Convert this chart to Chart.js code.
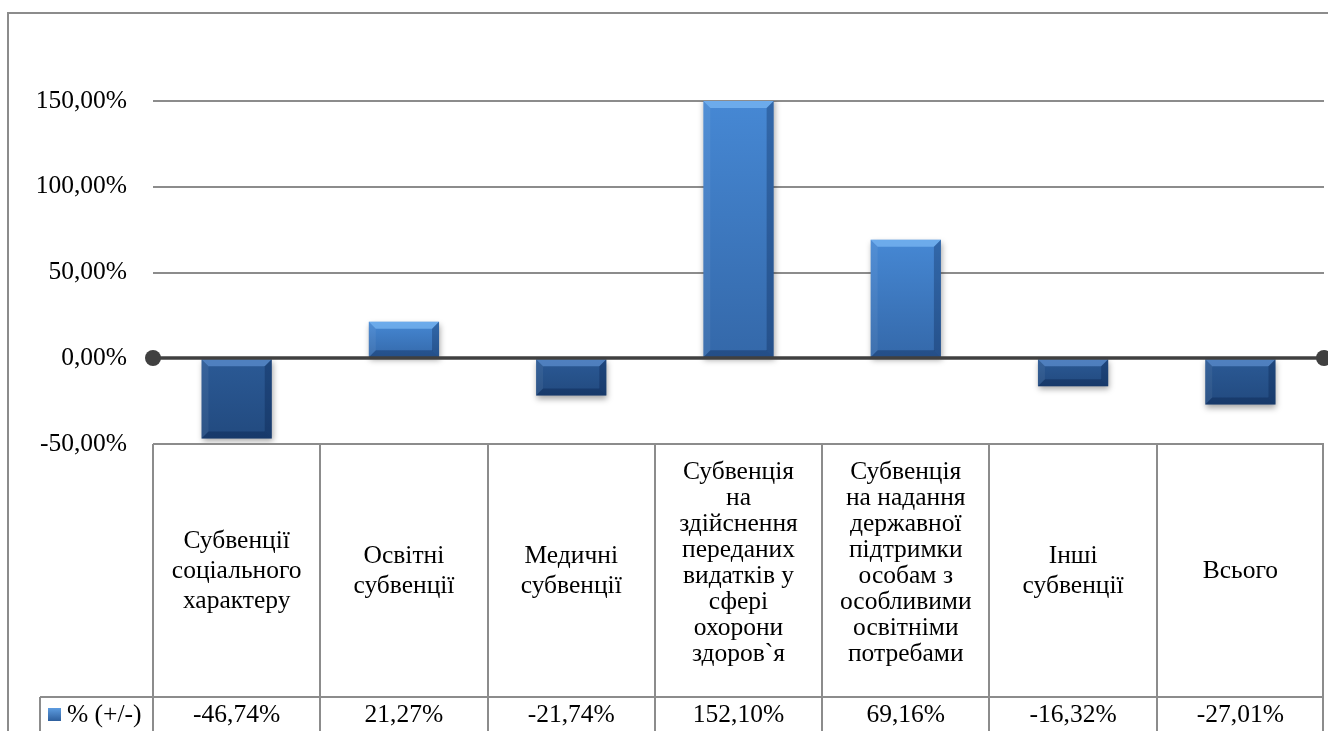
<!DOCTYPE html>
<html>
<head>
<meta charset="utf-8">
<script src="https://cdn.jsdelivr.net/npm/chart.js@4.4.1/dist/chart.umd.min.js"></script>
<style>
  html, body { margin: 0; padding: 0; background: #fff; }
  #wrap { width: 1328px; height: 731px; position: relative; overflow: hidden; }
</style>
</head>
<body>
<div id="wrap"><canvas id="c" width="1328" height="731"></canvas></div>
<script>
// ---- data ----
const categories = [
  ['Субвенції', 'соціального', 'характеру'],
  ['Освітні', 'субвенції'],
  ['Медичні', 'субвенції'],
  ['Субвенція', 'на', 'здійснення', 'переданих', 'видатків у', 'сфері', 'охорони', 'здоров`я'],
  ['Субвенція', 'на надання', 'державної', 'підтримки', 'особам з', 'особливими', 'освітніми', 'потребами'],
  ['Інші', 'субвенції'],
  ['Всього']
];
const values = [-46.74, 21.27, -21.74, 152.10, 69.16, -16.32, -27.01];
const seriesName = '% (+/-)';
const yMin = -50;
const yMax = 150;
const yStep = 50;

// ---- helpers ----
const FONT = '"Liberation Serif", "Times New Roman", serif';
const FS = 25.5;
const fmt = v => v.toFixed(2).replace('.', ',') + '%';
const GRID = '#8c8c8c';

function barFill(ctx) {
  const chart = ctx.chart;
  const area = chart.chartArea;
  const v = ctx.raw;
  if (!area || v === undefined) return v < 0 ? '#27538c' : '#3b7ac3';
  const ys = chart.scales.y;
  const y0 = ys.getPixelForValue(0);
  const y1 = Math.max(area.top, Math.min(area.bottom, ys.getPixelForValue(v)));
  const top = Math.min(y0, y1), bot = Math.max(y0, y1);
  const g = chart.ctx.createLinearGradient(0, top, 0, bot + 0.01);
  if (v >= 0) {
    g.addColorStop(0, '#4688d4');
    g.addColorStop(1, '#3468a9');
  } else {
    g.addColorStop(0, '#2b5a96');
    g.addColorStop(1, '#224a7f');
  }
  return g;
}

const shadowPlugin = {
  id: 'barShadow',
  beforeDatasetsDraw(chart) {
    const c = chart.ctx;
    c.save();
    c.shadowColor = 'rgba(0,0,0,0.35)';
    c.shadowBlur = 6;
    c.shadowOffsetX = 1;
    c.shadowOffsetY = 3;
  },
  afterDatasetsDraw(chart) {
    const c = chart.ctx;
    c.restore();
    const area = chart.chartArea;
    c.save();
    c.beginPath();
    c.rect(area.left, area.top, area.right - area.left, area.bottom - area.top);
    c.clip();
    chart.getDatasetMeta(0).data.forEach((el, i) => {
      const p = el.getProps(['x', 'y', 'base', 'width'], true);
      const l = p.x - p.width / 2, r = p.x + p.width / 2;
      const t = Math.max(area.top, Math.min(p.y, p.base));
      const b = Math.max(p.y, p.base);
      const h = b - t;
      const bw = Math.min(7, h / 2, p.width / 2);
      const poly = (pts, col) => {
        c.beginPath();
        c.moveTo(pts[0][0], pts[0][1]);
        for (let k = 1; k < pts.length; k++) c.lineTo(pts[k][0], pts[k][1]);
        c.closePath();
        c.fillStyle = col;
        c.fill();
      };
      const pos = values[i] >= 0;
      poly([[l, t], [r, t], [r - bw, t + bw], [l + bw, t + bw]], pos ? 'rgba(140,200,255,0.55)' : 'rgba(110,160,225,0.55)');
      poly([[l, t], [l + bw, t + bw], [l + bw, b - bw], [l, b]], 'rgba(255,255,255,0.06)');
      poly([[r, t], [r, b], [r - bw, b - bw], [r - bw, t + bw]], 'rgba(0,20,60,0.28)');
      poly([[l, b], [l + bw, b - bw], [r - bw, b - bw], [r, b]], 'rgba(0,20,60,0.30)');
    });
    c.restore();
    const ys = chart.scales.y;
    const y0 = Math.round(ys.getPixelForValue(0));
    c.save();
    c.strokeStyle = '#404040';
    c.fillStyle = '#404040';
    c.lineWidth = 3.5;
    c.beginPath();
    c.moveTo(area.left, y0);
    c.lineTo(area.right, y0);
    c.stroke();
    [area.left, area.right].forEach(x => {
      c.beginPath();
      c.arc(x, y0, 8, 0, Math.PI * 2);
      c.fill();
    });
    c.restore();
  }
};

const framePlugin = {
  id: 'frame',
  beforeDraw(chart) {
    const c = chart.ctx;
    c.save();
    c.strokeStyle = GRID;
    c.lineWidth = 2;
    c.beginPath();
    c.moveTo(8, chart.height);
    c.lineTo(8, 13);
    c.lineTo(chart.width, 13);
    c.stroke();
    c.restore();
  }
};

const tablePlugin = {
  id: 'dataTable',
  afterDraw(chart) {
    const c = chart.ctx;
    const area = chart.chartArea;
    const xs = chart.scales.x;
    const n = categories.length;
    const cw = (area.right - area.left) / n;
    const tTop = area.bottom;
    const rowSplit = 697;
    const tBottom = chart.height + 5;
    const legendLeft = 40;
    const edges = [];
    for (let i = 0; i <= n; i++) edges.push(Math.round(xs.getPixelForValue(0) - cw / 2 + i * cw) - (i === n ? 1 : 0));
    c.save();
    c.strokeStyle = GRID;
    c.lineWidth = 2;
    c.beginPath();
    edges.forEach(x => { c.moveTo(x, tTop); c.lineTo(x, tBottom); });
    c.moveTo(edges[0], tTop); c.lineTo(edges[n], tTop);
    c.moveTo(legendLeft, rowSplit); c.lineTo(edges[n], rowSplit);
    c.moveTo(legendLeft, rowSplit); c.lineTo(legendLeft, tBottom);
    c.stroke();

    c.fillStyle = '#000';
    c.font = FS + 'px ' + FONT;
    c.textAlign = 'center';
    c.textBaseline = 'middle';
    const midY = (tTop + rowSplit) / 2 + 1;
    categories.forEach((lines, i) => {
      const cx = xs.getPixelForValue(i);
      const tall = lines.length > 4;
      const lh = tall ? 26 : 30;
      const cy = tall ? midY - 8 : midY;
      lines.forEach((s, k) => {
        c.fillText(s, cx, cy + (k - (lines.length - 1) / 2) * lh);
      });
      c.fillText(fmt(values[i]), cx, 715);
    });
    const g = c.createLinearGradient(0, 708, 0, 722);
    g.addColorStop(0, '#5d9ce0');
    g.addColorStop(1, '#2a5a98');
    c.fillStyle = g;
    c.fillRect(48, 708, 13, 13);
    c.fillStyle = '#000';
    c.textAlign = 'left';
    c.fillText(seriesName, 67, 715);
    c.restore();
  }
};

function build() {
  new Chart(document.getElementById('c'), {
    type: 'bar',
    data: {
      labels: categories,
      datasets: [{
        label: seriesName,
        data: values,
        backgroundColor: barFill,
        borderWidth: 0,
        barPercentage: 0.42,
        categoryPercentage: 1.0
      }]
    },
    options: {
      responsive: false,
      animation: false,
      devicePixelRatio: 1,
      layout: { padding: { left: 0, right: 4, top: 101, bottom: 287 } },
      plugins: { legend: { display: false }, tooltip: { enabled: false } },
      scales: {
        x: { display: false },
        y: {
          min: yMin,
          max: yMax,
          border: { display: false },
          grid: {
            color: ctx => (ctx.tick && ctx.tick.value === 0) ? 'rgba(0,0,0,0)' : GRID,
            lineWidth: 2,
            drawTicks: false
          },
          ticks: {
            stepSize: yStep,
            padding: 26,
            color: '#000',
            font: { family: FONT, size: FS },
            callback: v => fmt(v)
          },
          afterFit(scale) { scale.width = 153; }
        }
      }
    },
    plugins: [framePlugin, shadowPlugin, tablePlugin]
  });
}

const fontReady = (document.fonts && document.fonts.load)
  ? document.fonts.load(FS + 'px "Liberation Serif"', 'Субвенції 150,00%').catch(() => {})
  : Promise.resolve();
fontReady.then(build, build);
</script>
</body>
</html>
